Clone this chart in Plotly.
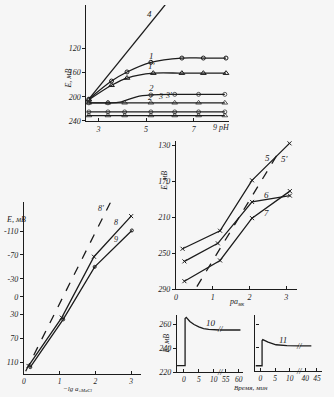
import plotly.graph_objects as go

W, H = 334, 397

# ---------------- Panel A (E vs pH) ----------------
A_ph1 = [2.6, 3.55, 4.2, 5.2, 6.5, 7.4, 8.35]
A_E1 = [204, 174, 159, 143, 136, 136, 136]
A_ph1p = [2.6, 3.55, 4.2, 5.3, 6.5, 7.4, 8.35]
A_E1p = [205, 181, 169, 161, 161, 161, 161]
A_ph4 = [2.6, 5.8]
A_E4 = [204, 48]
A_ph2 = [2.6, 3.4, 3.9, 4.6, 5.2, 6.2, 7.2, 8.3]
A_E2 = [210, 210, 209, 200, 197, 196, 196, 196]
A_ph2p = [2.5, 2.6, 3.4, 4.1, 5.2, 6.2, 7.2, 8.3]
A_E2p = [210, 210, 210, 210, 210, 210, 210, 210]
A_ph3 = [2.5, 2.6, 3.4, 4.1, 5.2, 6.2, 7.2, 8.3]
A_E3 = [225, 225, 225, 225, 225, 225, 225, 225]
A_E3p = [231, 231, 231, 231, 231, 231, 231, 231]
A_yticks = [120, 160, 200, 240]
A_xticks = [3, 5, 7]

# ---------------- Panel B (E vs pa) ----------------
B_x5 = [0.18, 1.2, 2.07, 3.09]
B_E5 = [245, 225, 169, 128]
B_x6 = [0.23, 1.14, 2.07, 3.1]
B_E6 = [259, 239, 193, 186]
B_x7 = [0.23, 1.2, 2.07, 3.1]
B_E7 = [281, 258, 211, 181]
B_x5p = [0.57, 2.84]
B_E5p = [287, 135]
B_yticks = [130, 170, 210, 250, 290]
B_xticks = [0, 1, 2, 3]

# ---------------- Panel C (E vs -lg a) ----------------
C_x8 = [0.13, 1.06, 1.96, 3.0]
C_E8 = [116, 35, -67, -135]
C_x9 = [0.18, 1.1, 1.98, 3.02]
C_E9 = [118, 38, -50, -111]
C_x8p = [0.05, 2.42]
C_E8p = [125, -158]
C_yticks = [-110, -70, -30, 0, 30, 70, 110]
C_yticktext = ["-110", "-70", "-30", "0", "30", "70", "110"]
C_xticks = [0, 1, 2, 3]

# ---------------- Panel D (E vs time) ----------------
D10_t1 = [-2.3, 0.4, 0.4, 0.8, 2.0, 3.4, 5.0, 6.6, 8.3, 9.9, 12.0]
D10_E1 = [225.5, 225.5, 265, 266, 262.5, 260, 258, 256.6, 255.9, 255.5, 255.4]
D10_t2 = [52.7, 60.6]
D10_E2 = [255.4, 255.4]
D11_t1 = [-1.7, 0.55, 0.55, 0.8, 2.6, 5.3, 9.0, 13.2]
D11_E1 = [224.7, 224.7, 246, 247, 244.8, 242.6, 241.8, 241.6]
D11_t2 = [37.4, 42.6]
D11_E2 = [241.6, 241.6]
D_yticks = [220, 240, 260]

INK = "#1c1c1c"
FONT = "Liberation Serif"


def dom_x(a, b):
    return [a / W, b / W]


def dom_y(top, bottom):
    return [1 - bottom / H, 1 - top / H]


def px(x, y):
    return x / W, 1 - y / H


def axis(fs=8, **kw):
    base = dict(showline=True, linecolor=INK, linewidth=1.2, showgrid=False,
                zeroline=False, ticks="outside", ticklen=3, tickwidth=1,
                tickcolor=INK, mirror=False,
                tickfont=dict(family=FONT, size=fs, color=INK, style="italic"))
    base.update(kw)
    return base


fig = go.Figure()
LW = 1.3


def add(x, y, xa, ya, symbol=None, dash="solid", size=4, shape="linear", sizes=None):
    mode = "lines+markers" if symbol else "lines"
    m = dict(symbol=symbol or "circle", size=sizes if sizes else size, color=INK,
             line=dict(color=INK, width=1))
    fig.add_trace(go.Scatter(x=x, y=y, xaxis=xa, yaxis=ya, mode=mode,
                             line=dict(color=INK, width=LW, dash=dash, shape=shape),
                             marker=m, cliponaxis=False, showlegend=False,
                             hoverinfo="skip"))


# Panel A
add(A_ph4, A_E4, "x", "y")
add(A_ph1, A_E1, "x", "y", "circle-open", shape="spline")
add(A_ph1p, A_E1p, "x", "y", "triangle-up-open", size=5, shape="spline")
add(A_ph2, A_E2, "x", "y", "circle-open", shape="spline",
    sizes=[4, 4, 0, 0, 4, 4, 4, 4])
add(A_ph2p, A_E2p, "x", "y", "triangle-up-open", sizes=[0, 5, 5, 5, 5, 5, 5, 5])
add(A_ph3, A_E3, "x", "y", "circle-open", sizes=[0, 4, 4, 4, 4, 4, 4, 4])
add(A_ph3, A_E3p, "x", "y", "triangle-up-open", sizes=[0, 5, 5, 5, 5, 5, 5, 5])

# Panel B
add(B_x5, B_E5, "x2", "y2", "x-thin-open")
add(B_x6, B_E6, "x2", "y2", "x-thin-open")
add(B_x7, B_E7, "x2", "y2", "x-thin-open")
add(B_x5p, B_E5p, "x2", "y2", dash="dash")

# Panel C
add(C_x8, C_E8, "x3", "y3", "x-thin-open")
add(C_x9, C_E9, "x3", "y3", "circle-open", size=3)
add(C_x8p, C_E8p, "x3", "y3", dash="dash")

# Panel D
add(D10_t1, D10_E1, "x4", "y4")
add(D10_t2, D10_E2, "x5", "y4")
add(D11_t1, D11_E1, "x6", "y5")
add(D11_t2, D11_E2, "x7", "y5")

layout = dict(
    width=W, height=H, margin=dict(l=0, r=0, t=0, b=0),
    paper_bgcolor="#f6f6f6", plot_bgcolor="rgba(0,0,0,0)",
    xaxis=axis(domain=dom_x(85, 228), range=[2.5, 8.46], anchor="y",
               tickvals=A_xticks, ticks="inside"),
    yaxis=axis(domain=dom_y(5, 123), range=[240.8, 48.2], anchor="x",
               tickvals=A_yticks),
    xaxis2=axis(domain=dom_x(175, 297), range=[0, 3.3], anchor="y2",
                tickvals=B_xticks, ticks="inside"),
    yaxis2=axis(domain=dom_y(143, 293), range=[290, 125.6], anchor="x2",
                tickvals=B_yticks),
    xaxis3=axis(fs=7.5, domain=dom_x(22, 140), range=[0, 3.28], anchor="y3",
                tickvals=C_xticks, ticks="inside"),
    yaxis3=axis(domain=dom_y(205, 379), range=[129.9, -158], anchor="x3",
                tickvals=C_yticks, ticktext=C_yticktext),
    xaxis4=axis(fs=7.5, domain=dom_x(176, 219), range=[-2.33, 12.0], anchor="y4",
                tickvals=[0, 5, 10], ticks="inside"),
    xaxis5=axis(fs=7.5, domain=dom_x(219, 242), range=[52.7, 61.4], anchor="y4",
                tickvals=[55, 60], ticks="inside"),
    yaxis4=axis(domain=dom_y(319, 377), range=[220, 268], anchor="x4",
                tickvals=D_yticks),
    xaxis6=axis(fs=7.5, domain=dom_x(255, 299), range=[-1.7, 13.2], anchor="y5",
                tickvals=[0, 5, 10], ticks="inside"),
    xaxis7=axis(fs=7.5, domain=dom_x(299, 322), range=[37.4, 47.2], anchor="y5",
                tickvals=[40, 45], ticks="inside"),
    yaxis5=axis(domain=dom_y(319, 376), range=[220, 268], anchor="x6",
                tickvals=D_yticks, showticklabels=False, ticks="inside"),
)
fig.update_layout(**layout)

ann = []


def label(text, x, y, size=9, angle=0, xanchor="center"):
    xp, yp = px(x, y)
    ann.append(dict(text=text, x=xp, y=yp, xref="paper", yref="paper",
                    showarrow=False, textangle=angle, xanchor=xanchor,
                    yanchor="middle",
                    font=dict(family=FONT, size=size, color=INK, style="italic")))


# panel A
label("4", 148, 14)
label("1", 150, 57)
label("1'", 151, 67)
label("2", 150, 89)
label("2'", 150, 99, size=8)
label("3", 159, 98, size=8)
label("3'", 168, 97, size=8)
label("E, мВ", 67, 80, size=8, angle=-90)
label("9 рН", 221, 129, size=8)
# panel B
label("5", 267, 160)
label("5'", 285, 161)
label("6", 266, 197)
label("7", 266, 216)
label("E, мВ", 164, 183, size=8, angle=-90)
label("pa<sub>мк</sub>", 236, 306, size=8)
# panel C
label("8'", 100, 211, size=8)
label("8", 115, 225, size=8)
label("9", 115, 243, size=8)
label("E, мВ", 14, 222, size=8)
label("−lg a<sub>±MeCl</sub>", 76, 393.5, size=7)
# panel D
label("10", 210, 327)
label("11", 283, 344)
label("E, мВ", 166, 348, size=8, angle=-90)
label("Время, мин", 250, 393, size=7)
for bx, by in [(219, 334), (219, 377), (299, 351), (299, 376)]:
    label("//", bx, by, size=8)

fig.update_layout(annotations=ann)
fig.write_html("out.html")
